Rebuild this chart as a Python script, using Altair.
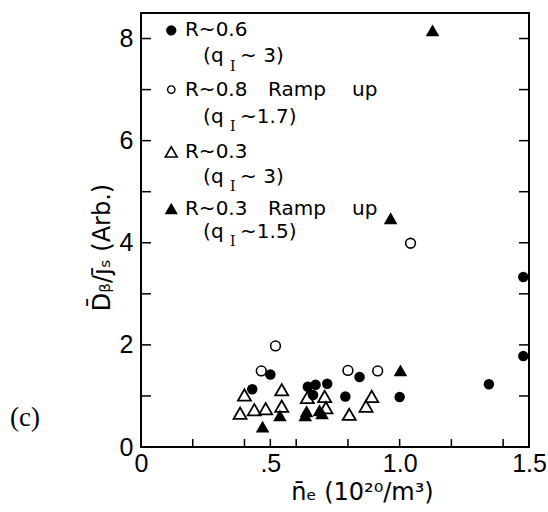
import altair as alt
import pandas as pd

# ---------------- data ----------------
# R~0.6 (q_I~3) : filled circles
r06_x = [0.43, 0.50, 0.645, 0.675, 0.72, 0.665, 0.79, 0.845, 1.00, 1.345, 1.478, 1.478]
r06_y = [1.13, 1.42, 1.18, 1.22, 1.24, 1.02, 0.99, 1.37, 0.98, 1.23, 1.78, 3.33]
# R~0.8 Ramp up (q_I~1.7) : open circles
r08_x = [0.465, 0.52, 0.80, 0.915, 1.042]
r08_y = [1.49, 1.98, 1.50, 1.49, 3.99]
# R~0.3 (q_I~3) : open triangles
r03_x = [0.383, 0.40, 0.438, 0.482, 0.544, 0.544, 0.643, 0.71, 0.715, 0.805, 0.87, 0.892]
r03_y = [0.66, 1.02, 0.73, 0.75, 1.12, 0.80, 0.97, 0.99, 0.77, 0.64, 0.80, 0.99]
# R~0.3 Ramp up (q_I~1.5) : filled triangles
r03r_x = [0.47, 0.537, 0.635, 0.64, 0.69, 0.70, 0.965, 1.003, 1.127]
r03r_y = [0.40, 0.62, 0.62, 0.70, 0.72, 0.66, 4.48, 1.50, 8.16]

x_label_values = [0, 0.5, 1.0, 1.5]
y_label_values = [0, 2, 4, 6, 8]
x_tick_values = [0.2, 0.4, 0.5, 0.6, 0.8, 1.0, 1.2, 1.4]
y_tick_values = [1, 2, 3, 4, 5, 6, 7, 8]

legend_main = ["R~0.6", "R~0.8", "R~0.3", "R~0.3"]
legend_ramp = ["", "Ramp", "", "Ramp"]
legend_up = ["", "up", "", "up"]
legend_q = ["~ 3)", "~1.7)", "~ 3)", "~1.5)"]

x_title = "n\u0304\u2091 (10\u00b2\u2070/m\u00b3)"
y_title = "D\u0304\u1d66/j\u0304\u209b (Arb.)"
panel_label = "(c)"

# ---------------- layout ----------------
W, H = 388, 434
row_main_y = [8.16, 7.0, 5.78, 4.67]
row_q_y = [7.65, 6.47, 5.29, 4.22]
sym_x = 0.117
main_x, ramp_x, up_x = 0.170, 0.491, 0.816
paren_x, sub_x, rest_x = 0.240, 0.355, 0.383
sub_dy = 0.2

xs = alt.Scale(domain=[0, 1.5], nice=False, zero=False)
ys = alt.Scale(domain=[0, 8.5], nice=False, zero=False)

x_axis = alt.Axis(
    values=x_label_values,
    labelExpr="datum.value == 0 ? '0' : (datum.value == 0.5 ? '.5' : format(datum.value, '.1f'))",
    ticks=False, domain=False, grid=False,
    labelFont="Liberation Sans", labelFontSize=25, labelColor="black", labelPadding=4,
    labelOverlap=False, labelBound=False, labelFlush=False,
    title=x_title, titleFont="DejaVu Sans", titleFontSize=24, titleFontWeight="normal",
    titleColor="black", titleX=221, titleY=45, titleBaseline="middle", titleAlign="center",
)
y_axis = alt.Axis(
    values=y_label_values, format="d",
    ticks=False, domain=False, grid=False,
    labelFont="Liberation Sans", labelFontSize=25, labelColor="black", labelPadding=8,
    labelOverlap=False, labelBound=False,
    title=y_title, titleFont="DejaVu Sans", titleFontSize=24, titleFontWeight="normal",
    titleColor="black", titleX=-39, titleY=234, titleBaseline="middle", titleAlign="center",
)


def X():
    return alt.X("x:Q", scale=xs, axis=x_axis)


def Y():
    return alt.Y("y:Q", scale=ys, axis=y_axis)


def points(xv, yv, shape, filled, size, sw=1.6):
    df = pd.DataFrame({"x": xv, "y": yv})
    return alt.Chart(df).mark_point(
        shape=shape, filled=filled, size=size, color="black", strokeWidth=sw, opacity=1
    ).encode(x=X(), y=Y())


def texts(xv, yv, tv, size=20, font="DejaVu Sans", align="left"):
    df = pd.DataFrame({"x": xv, "y": yv, "t": tv})
    df = df[df["t"] != ""]
    return alt.Chart(df).mark_text(
        align=align, baseline="middle", font=font, fontSize=size, color="black"
    ).encode(x=X(), y=Y(), text="t:N")


layers = []

# tick marks (inward)
yt = pd.DataFrame({"y": y_tick_values})
xt = pd.DataFrame({"x": x_tick_values})
layers.append(alt.Chart(yt).mark_rule(color="black", strokeWidth=1.5).encode(
    y=Y(), x=alt.value(0), x2=alt.value(10)))
layers.append(alt.Chart(yt).mark_rule(color="black", strokeWidth=1.5).encode(
    y=Y(), x=alt.value(W), x2=alt.value(W - 10)))
layers.append(alt.Chart(xt).mark_rule(color="black", strokeWidth=1.5).encode(
    x=X(), y=alt.value(H), y2=alt.value(H - 8)))

# data
layers.append(points(r03_x, r03_y, "triangle-up", False, 170, 1.8))
layers.append(points(r08_x, r08_y, "circle", False, 95, 1.6))
layers.append(points(r06_x, r06_y, "circle", True, 110))
layers.append(points(r03r_x, r03r_y, "triangle-up", True, 185))

# legend symbols
layers.append(points([sym_x], [row_main_y[0]], "circle", True, 105))
layers.append(points([sym_x], [row_main_y[1]], "circle", False, 55, 1.4))
layers.append(points([sym_x], [row_main_y[2]], "triangle-up", False, 140, 1.6))
layers.append(points([sym_x], [row_main_y[3]], "triangle-up", True, 175))

# legend text
layers.append(texts([main_x] * 4, row_main_y, legend_main))
layers.append(texts([ramp_x] * 4, row_main_y, legend_ramp))
layers.append(texts([up_x] * 4, row_main_y, legend_up))
layers.append(texts([paren_x] * 4, row_q_y, ["(q"] * 4))
layers.append(texts([sub_x] * 4, [v - sub_dy for v in row_q_y], ["I"] * 4,
                    size=14, font="DejaVu Serif", align="center"))
layers.append(texts([rest_x] * 4, row_q_y, legend_q))

# panel label
layers.append(alt.Chart(pd.DataFrame({"t": [panel_label]})).mark_text(
    font="Liberation Serif", fontSize=27, align="center", baseline="middle", color="black"
).encode(x=alt.value(-116), y=alt.value(405), text="t:N"))

chart = alt.layer(*layers).properties(
    width=W, height=H,
    autosize=alt.AutoSizeParams(type="none"),
    padding={"left": 141, "top": 13, "right": 19, "bottom": 65},
    background="white",
).configure_view(stroke="black", strokeWidth=2)

chart.save("out.html", embed_options={"renderer": "svg", "actions": False})
